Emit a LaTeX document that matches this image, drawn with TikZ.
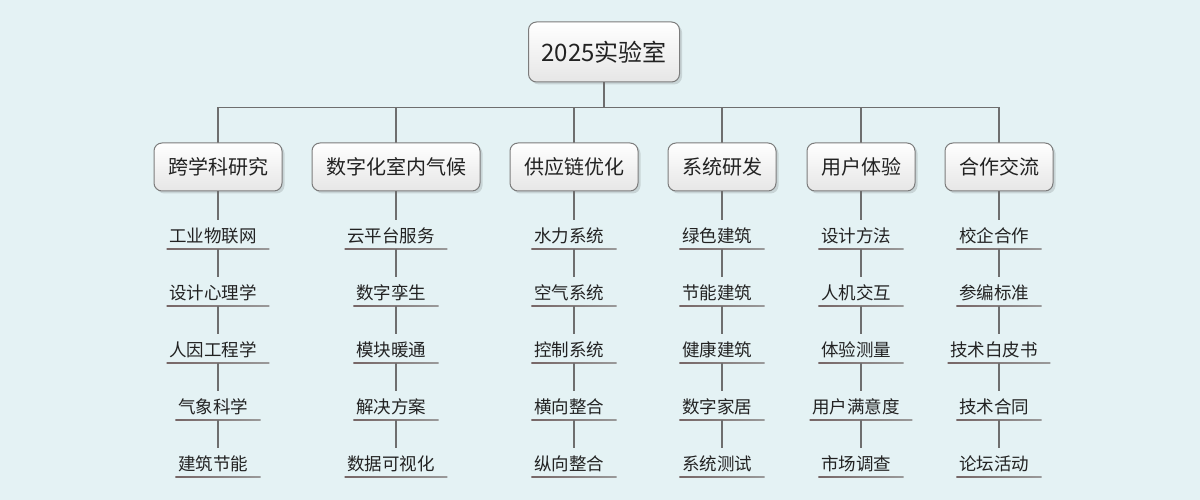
\documentclass[tikz,border=0pt]{standalone}
\usepackage{fontspec}
\setmainfont{Noto Sans CJK SC}
\usetikzlibrary{shadows}
\definecolor{bg}{HTML}{E4F2F4}
\definecolor{ln}{HTML}{6E6E6E}
\definecolor{bd}{HTML}{7C7C7C}
\definecolor{ulL}{HTML}{766666}
\definecolor{ulR}{HTML}{9A9A9A}
\definecolor{boxB}{HTML}{E6E6E6}
\definecolor{txt}{HTML}{222222}
\begin{document}
\begin{tikzpicture}[x=1pt,y=1pt,
 box/.style={draw=bd, line width=1pt, rounded corners=8pt, top color=white, bottom color=boxB, text=txt,
   drop shadow={shadow xshift=2.5pt, shadow yshift=-2.5pt, fill=black, opacity=0.12}},
 rootbox/.style={box, font=\fontsize{24pt}{28pt}\selectfont, minimum width=151pt, minimum height=60pt, inner sep=0pt},
 catbox/.style={box, font=\fontsize{20pt}{24pt}\selectfont, minimum height=48pt, inner xsep=14pt, inner ysep=0pt},
 leafnode/.style={anchor=south, font=\fontsize{17.5pt}{20pt}\selectfont, text=txt, text height=20pt, text depth=3pt,
   inner ysep=3pt, inner xsep=2.5pt, execute at end node={\hspace*{10pt}}},
 conn/.style={draw=ln, line width=1.2pt}]
\fill[bg] (0,0) rectangle (1200,500);
\useasboundingbox (0,0) rectangle (1200,500);

\node[rootbox] (root) at (604,448) {2025实验室};

\foreach \i/\x/\t in {1/218/跨学科研究, 2/396/数字化室内气候, 3/574/供应链优化, 4/722/系统研发, 5/861/用户体验, 6/999/合作交流}{
  \draw[conn] (root.south) -- ++(0,-25) -| (\x,333);
}
\foreach \i/\x/\t in {1/218/跨学科研究, 2/396/数字化室内气候, 3/574/供应链优化, 4/722/系统研发, 5/861/用户体验, 6/999/合作交流}{
  \node[catbox] (c\i) at (\x,333) {\t};
}

\foreach \i/\x/\lst in {
  1/218/{工业物联网,设计心理学,人因工程学,气象科学,建筑节能},
  2/396/{云平台服务,数字孪生,模块暖通,解决方案,数据可视化},
  3/574/{水力系统,空气系统,控制系统,横向整合,纵向整合},
  4/722/{绿色建筑,节能建筑,健康建筑,数字家居,系统测试},
  5/861/{设计方法,人机交互,体验测量,用户满意度,市场调查},
  6/999/{校企合作,参编标准,技术白皮书,技术合同,论坛活动}}{
  \foreach \t [count=\j] in \lst {
    \pgfmathsetmacro\yy{251-57*(\j-1)}
    \node[leafnode] (l\i-\j) at (\x,\yy) {\t};
    \shade[left color=ulL, right color=ulR] ([yshift=-0.7pt]l\i-\j.south west) rectangle ([yshift=0.7pt]l\i-\j.south east);
    \ifnum\j=1
      \draw[conn] (c\i.south) -- (l\i-\j.north);
    \else
      \pgfmathtruncatemacro\k{\j-1}
      \draw[conn] (l\i-\k.south) -- (l\i-\j.north);
    \fi
  }
}
\end{tikzpicture}
\end{document}
